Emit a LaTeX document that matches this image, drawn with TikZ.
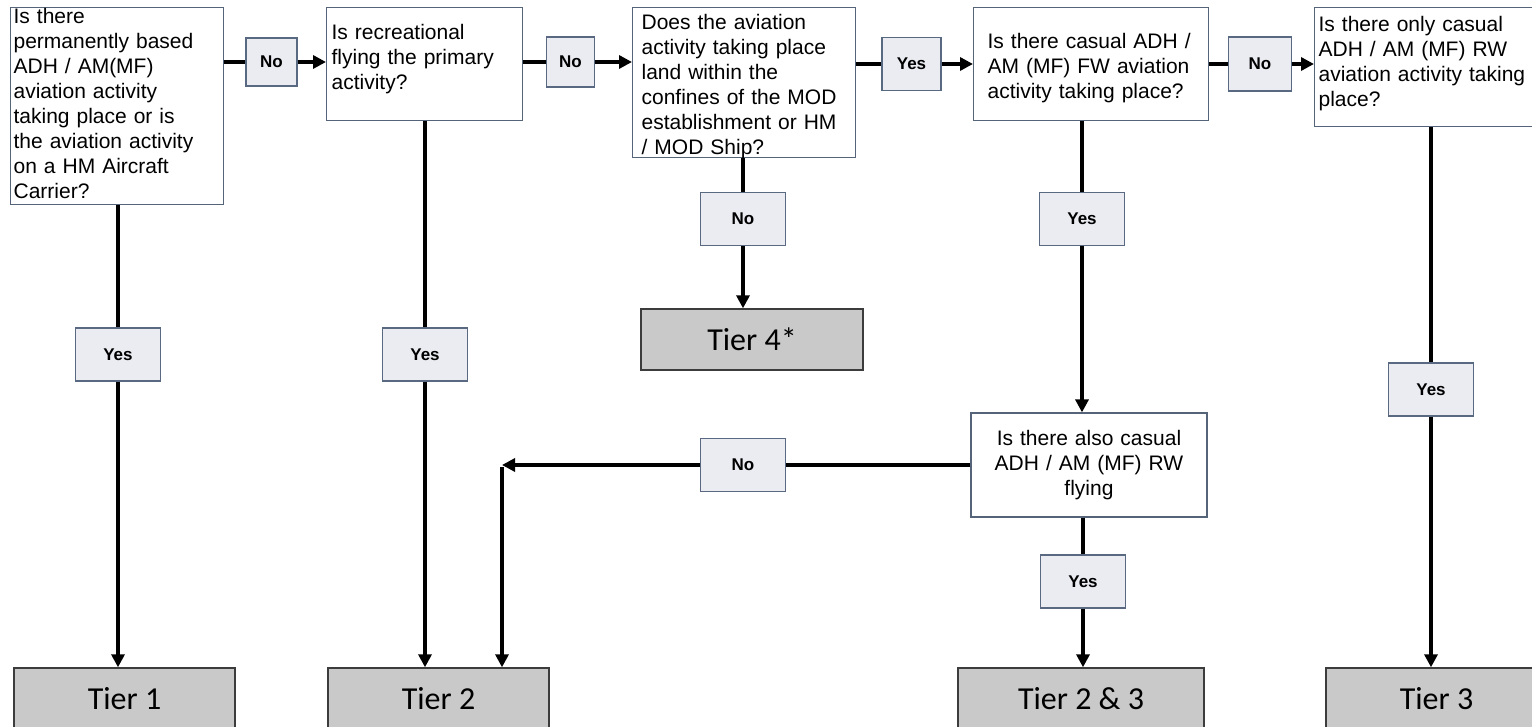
\documentclass[tikz,border=0pt]{standalone}
\usepackage{fontspec}
\setmainfont{Liberation Sans}
\newfontfamily\tierfont{Carlito}
\usetikzlibrary{arrows.meta}
\definecolor{qedge}{RGB}{85,100,120}
\definecolor{ansfill}{RGB}{234,236,242}
\definecolor{ansedge}{RGB}{90,105,130}
\definecolor{tierfill}{RGB}{201,201,201}
\definecolor{tieredge}{RGB}{60,60,60}

\begin{document}
\begin{tikzpicture}[x=1pt, y=-1pt,
	question/.style={draw=qedge, fill=white, line width=1.2pt, anchor=north west, align=left, inner ysep=0pt, font=\fontsize{21}{25}\selectfont},
	answer/.style={draw=ansedge, fill=ansfill, line width=1.2pt, inner sep=0pt, minimum width=85pt, minimum height=53pt, font=\fontsize{17}{20}\selectfont\bfseries},
	tier/.style={draw=tieredge, fill=tierfill, line width=1.4pt, minimum width=221pt, minimum height=61pt, inner sep=0pt, font=\tierfont\fontsize{32}{38}\selectfont}]
	\tikzset{link/.style={line width=3.5pt}, arrow/.style={link, -{Triangle[length=13pt,width=13pt]}}}
	\useasboundingbox (0,0) rectangle (1532,727);
	\node[question, inner xsep=3pt, text width=207pt, text height=16pt, text depth=181pt] (q1) at (10,7) {Is there\\permanently based\\ADH / AM(MF)\\aviation activity\\taking place or is\\the aviation activity\\on a HM Aircraft\\Carrier?};
	\node[question, inner xsep=5pt, text width=186pt, text height=32pt, text depth=81pt] (q2) at (326,7) {Is recreational\\flying the primary\\activity?};
	\node[question, inner xsep=9pt, text width=205pt, text height=22pt, text depth=128pt] (q3) at (632,7) {Does the aviation\\activity taking place\\land within the\\confines of the MOD\\establishment or HM\\/ MOD Ship?};
	\node[question, inner xsep=14pt, text width=207pt, text height=41pt, text depth=72pt] (q4) at (973,7) {Is there casual ADH /\\AM (MF) FW aviation\\activity taking place?};
	\node[question, inner xsep=4pt, text width=230pt, text height=24pt, text depth=95pt] (q5) at (1314,7) {Is there only casual\\ADH / AM (MF) RW\\aviation activity taking\\place?};
	\node[question, anchor=center, align=center, inner sep=0pt, text width=230pt, minimum width=236pt, minimum height=104pt] (q6) at (1089,465) {Is there also casual\\ADH / AM (MF) RW\\flying};
	\node[answer, minimum width=51pt, minimum height=48pt] (no1) at (271.5,62) {No};
	\node[answer, minimum width=48pt, minimum height=50pt] (no2) at (570.5,62) {No};
	\node[answer, minimum width=59pt, minimum height=53pt] (yes3) at (911.5,64) {Yes};
	\node[answer, minimum width=63pt, minimum height=54pt] (no4) at (1260,64) {No};
	\node[answer] (yes1) at (118,354.5) {Yes};
	\node[answer] (yes2) at (425,354.5) {Yes};
	\node[answer] (no3) at (743,219) {No};
	\node[answer] (yes4) at (1082,219) {Yes};
	\node[answer] (yes5) at (1431,389.5) {Yes};
	\node[answer] (no6) at (743,465) {No};
	\node[answer] (yes6) at (1083,581.5) {Yes};
	\node[tier] (tier1) at (124.5,698.5) {Tier 1};
	\node[tier] (tier2) at (438.5,698.5) {Tier 2};
	\node[tier, minimum width=222pt] (tier4) at (752,339.5) {Tier 4*};
	\node[tier, minimum width=246pt] (tier23) at (1081,698.5) {Tier 2 \& 3};
	\node[tier] (tier3) at (1436.5,698.5) {Tier 3};
	\coordinate (bend) at (502,465);
	\draw[link] (q1.east |- no1.west) -- (no1.west);
	\draw[arrow] (no1.east) -- (q2.west |- no1.east);
	\draw[link] (q2.east |- no2.west) -- (no2.west);
	\draw[arrow] (no2.east) -- (q3.west |- no2.east);
	\draw[link] (q3.east |- yes3.west) -- (yes3.west);
	\draw[arrow] (yes3.east) -- (q4.west |- yes3.east);
	\draw[link] (q4.east |- no4.west) -- (no4.west);
	\draw[arrow] (no4.east) -- (q5.west |- no4.east);
	\draw[link] (q1.south -| yes1.north) -- (yes1.north);
	\draw[arrow] (yes1.south) -- (yes1.south |- tier1.north);
	\draw[link] (q2.south -| yes2.north) -- (yes2.north);
	\draw[arrow] (yes2.south) -- (yes2.south |- tier2.north);
	\draw[link] (q3.south -| no3.north) -- (no3.north);
	\draw[arrow] (no3.south) -- (no3.south |- tier4.north);
	\draw[link] (q4.south -| yes4.north) -- (yes4.north);
	\draw[arrow] (yes4.south) -- (yes4.south |- q6.north);
	\draw[link] (q6.south -| yes6.north) -- (yes6.north);
	\draw[arrow] (yes6.south) -- (yes6.south |- tier23.north);
	\draw[link] (q5.south -| yes5.north) -- (yes5.north);
	\draw[arrow] (yes5.south) -- (yes5.south |- tier3.north);
	\draw[link] (q6.west) -- (no6.east);
	\draw[arrow] (no6.west) -- (bend);
	\draw[arrow] ([yshift=-1.75pt]bend) -- (bend |- tier2.north);
\end{tikzpicture}
\end{document}
